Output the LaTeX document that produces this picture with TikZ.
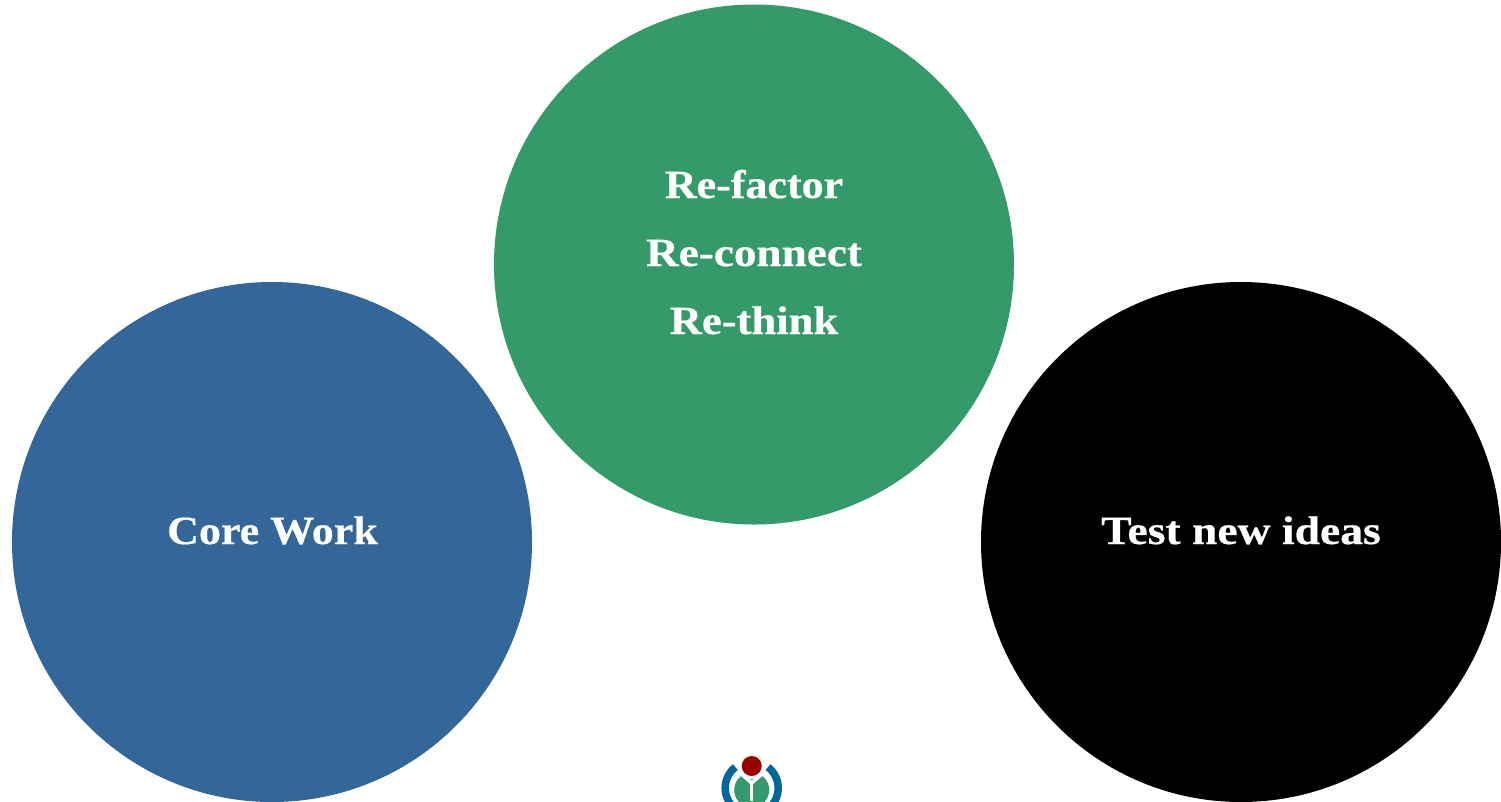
\documentclass[tikz,border=0pt]{standalone}
\usepackage{fontspec}
\setmainfont[BoldFeatures={FakeBold=0.5}]{Liberation Serif}
\definecolor{cgreen}{HTML}{359A69}
\definecolor{cblue}{HTML}{336699}
\definecolor{cred}{HTML}{990000}
\definecolor{lblue}{HTML}{006699}
\tikzset{
  x=1pt,y=-1pt,
  bubble/.style={circle,minimum size=520pt,inner sep=0pt,draw=none},
  lbl/.style={text=white,inner sep=0pt,anchor=base,font=\bfseries\fontsize{40}{40}\selectfont},
}
\begin{document}
\begin{tikzpicture}
\useasboundingbox (0,0) rectangle (1501,801);
\clip (0,0) rectangle (1501,801);
\fill[white] (0,0) rectangle (1501,801);
\node[bubble,fill=cgreen] (refactor) at (754,264.5) {};
\node[bubble,fill=cblue] (core) at (272,542) {};
\node[bubble,fill=black] (test) at (1241,542) {};
\node[lbl,xscale=1.10] (t1) at (754,198) {Re-factor};
\node[lbl,xscale=1.13] (t2) at (754,266) {Re-connect};
\node[lbl,xscale=1.115] (t3) at (754,334) {Re-think};
\node[lbl,xscale=1.10] (t4) at (272.5,544) {Core Work};
\node[lbl,xscale=1.14] (t5) at (1241,544) {Test new ideas};
% logo
\draw[lblue,line width=7.5pt] plot[domain=232:-52,samples=60,smooth] ({751.7+26.5*cos(\x)},{788+26.5*sin(\x)});
\fill[cgreen] (751.7,790) circle[radius=17.5];
\draw[white,line width=3.5pt] (751.7,780) -- (751.7,801);
\draw[white,line width=3.5pt] (751.7,783) -- (738,771);
\draw[white,line width=3.5pt] (751.7,783) -- (765.4,771);
\fill[white] (751.7,766) circle[radius=13];
\node[circle,fill=cred,minimum size=20pt,inner sep=0pt] (lr) at (751.7,766) {};
\end{tikzpicture}
\end{document}
